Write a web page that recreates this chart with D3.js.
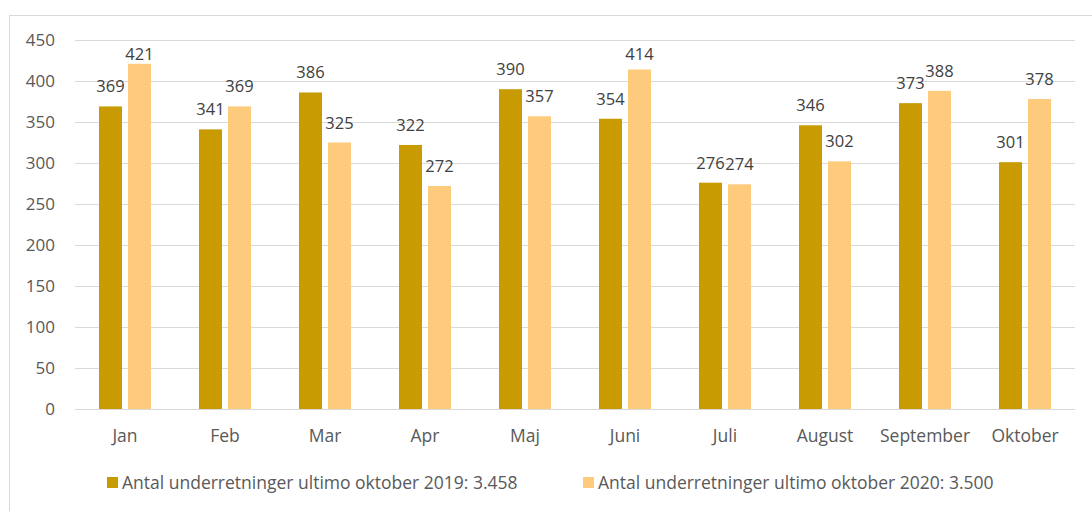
<!DOCTYPE html>
<html>
<head>
<meta charset="utf-8">
<script src="https://cdn.jsdelivr.net/npm/d3@7"></script>
<style>
  body { margin: 0; background: #fff; }
  svg { display: block; font-family: "Open Sans", "Noto Sans", sans-serif; }
</style>
</head>
<body>
<svg id="chart"></svg>
<script>
// --- Data ---
const months = ["Jan", "Feb", "Mar", "Apr", "Maj", "Juni", "Juli", "August", "September", "Oktober"];
const values2019 = [369, 341, 386, 322, 390, 354, 276, 346, 373, 301];
const values2020 = [421, 369, 325, 272, 357, 414, 274, 302, 388, 378];
const seriesNames = [
    "Antal underretninger ultimo oktober 2019: 3.458",
    "Antal underretninger ultimo oktober 2020: 3.500"
];
const yTicks = [0, 50, 100, 150, 200, 250, 300, 350, 400, 450];

const colors = ["#C89B03", "#FECA7C"];

// --- Sizing ---
const width = 1092, height = 511;
const margin = { top: 40, right: 17, bottom: 102, left: 75 };
const fontFamily = '"Open Sans", "Noto Sans", sans-serif';

const svg = d3.select("#chart")
    .attr("width", width)
    .attr("height", height);

// outer chart border
svg.append("rect")
    .attr("x", 9.5).attr("y", 15.5)
    .attr("width", 1100).attr("height", 520)
    .attr("fill", "none")
    .attr("stroke", "#D9D9D9");

// --- Scales ---
const x = d3.scaleBand()
    .domain(months)
    .range([margin.left, width - margin.right]);

const y = d3.scaleLinear()
    .domain([0, 450])
    .range([height - margin.bottom, margin.top]);

const barW = 23, gap = 6;

// --- Grid ---
svg.append("g")
    .selectAll("line")
    .data(yTicks)
    .join("line")
    .attr("x1", margin.left).attr("x2", width - margin.right)
    .attr("y1", d => Math.round(y(d)) + 0.5)
    .attr("y2", d => Math.round(y(d)) + 0.5)
    .attr("stroke", "#D9D9D9")
    .attr("stroke-width", 1);

// --- Y axis labels ---
const yAxis = svg.append("g")
    .attr("transform", `translate(${margin.left - 20},0)`)
    .call(d3.axisLeft(y).tickValues(yTicks).tickSize(0).tickPadding(0))
    .attr("font-family", fontFamily);
yAxis.select(".domain").remove();
yAxis.selectAll("text")
    .attr("fill", "#595959")
    .attr("font-size", 17);

// --- X axis labels ---
const xAxis = svg.append("g")
    .attr("transform", `translate(0,${height - margin.bottom})`)
    .call(d3.axisBottom(x).tickSize(0).tickPadding(21))
    .attr("font-family", fontFamily);
xAxis.select(".domain").remove();
xAxis.selectAll("text")
    .attr("fill", "#595959")
    .attr("font-size", 17.5);

// --- Bars ---
const series = [values2019, values2020];
series.forEach((vals, si) => {
    const offset = si === 0 ? -(barW + gap / 2) : gap / 2;
    const cx = (d, i) => x(months[i]) + x.bandwidth() / 2 + offset;

    svg.append("g")
        .selectAll("rect")
        .data(vals)
        .join("rect")
        .attr("x", (d, i) => cx(d, i))
        .attr("y", d => y(d))
        .attr("width", barW)
        .attr("height", d => y(0) - y(d))
        .attr("fill", colors[si]);

    // value labels (kept inside the plot area at the top)
    svg.append("g")
        .selectAll("text")
        .data(vals)
        .join("text")
        .attr("x", (d, i) => cx(d, i) + barW / 2)
        .attr("y", d => Math.max(y(d) - 14, y(450) + 20))
        .attr("text-anchor", "middle")
        .attr("fill", "#404040")
        .attr("font-size", 16.5)
        .text(d => d);
});

// --- Legend ---
const legendX = [107, 583];
const legend = svg.append("g");
seriesNames.forEach((name, i) => {
    legend.append("rect")
        .attr("x", legendX[i]).attr("y", 477)
        .attr("width", 11).attr("height", 11)
        .attr("fill", colors[i]);
    legend.append("text")
        .attr("x", legendX[i] + 15)
        .attr("y", 489)
        .attr("fill", "#595959")
        .attr("font-size", 17.5)
        .text(name);
});
</script>
</body>
</html>
